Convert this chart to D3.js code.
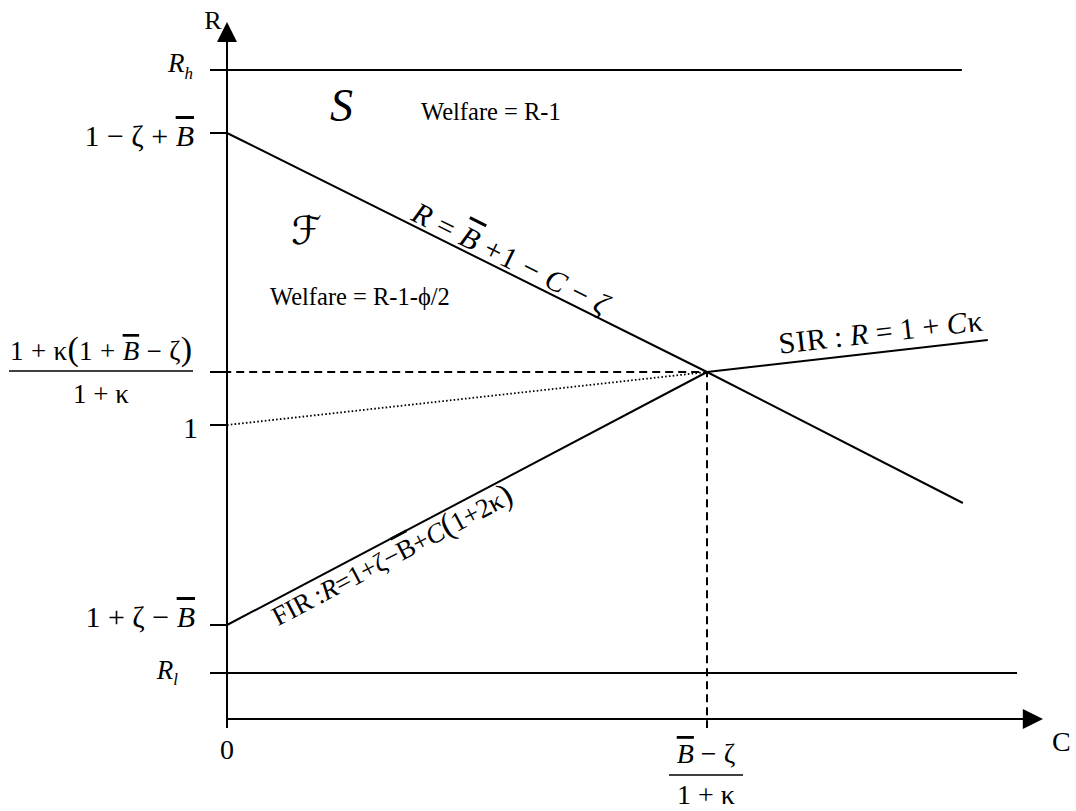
<!DOCTYPE html>
<html>
<head>
<meta charset="utf-8">
<script src="https://cdn.jsdelivr.net/npm/d3@7"></script>
<style>
    body { margin: 0; background: #fff; }
    svg { display: block; }
    text { font-family: 'Liberation Serif', 'Times New Roman', serif; fill: #000; }
</style>
</head>
<body>
<div id="chart"></div>
<script>
// values: C on x, R on y (arbitrary units)
const cDomain = [0, 17];
const rDomain = [0, 14];

const levelNames = ['Rh', '1-zeta+B', 'cross', 'one', '1+zeta-B', 'Rl'];
const levelValues = [12.98, 11.72, 6.94, 5.88, 1.88, 0.92];

const cStar = 10;     // (B - zeta)/(1 + kappa)
const rStar = 6.94;   // (1 + kappa(1 + B - zeta))/(1 + kappa)

const boundaryC = [0, cStar, 15.33];   // R = B + 1 - C - zeta
const boundaryR = [11.72, rStar, 4.32];
const firC = [0, cStar];
const firR = [1.88, rStar];
const sirC = [cStar, 15.85];
const sirR = [rStar, 7.58];
const oneC = [0, cStar];
const oneR = [5.88, rStar];
const rhC = [-0.35, 15.31];
const rlC = [-0.35, 16.46];

const TH = '\u2009'; // thin space

window.Fig = window.Fig || {};

Fig.init = function() {
    Fig.width = 1076;
    Fig.height = 811;

    Fig.svg = d3.select('#chart').append('svg')
        .attr('width', Fig.width)
        .attr('height', Fig.height);

    Fig.x = d3.scaleLinear().domain(cDomain).range([227, 1043]);
    Fig.y = d3.scaleLinear().domain(rDomain).range([719, 19]);

    Fig.draw.axes();
    Fig.draw.lines();
    Fig.draw.levelLabels();
    Fig.draw.lineLabels();
    Fig.draw.regions();
};

Fig.helpers = {
    // parts: [{t, i (italic), bar (overline), fs, dy}]
    rich: function(text, parts) {
        parts.forEach(function(p) {
            let ts = text.append('tspan').text(p.t);
            if (p.i) ts.attr('font-style', 'italic');
            if (p.bar) ts.attr('text-decoration', 'overline');
            if (p.fs) ts.attr('font-size', p.fs);
            if (p.dy) ts.attr('dy', p.dy);
        });
        return text;
    },

    angle: function(cs, rs) {
        let n = cs.length - 1;
        return Math.atan2(Fig.y(rs[n]) - Fig.y(rs[0]), Fig.x(cs[n]) - Fig.x(cs[0])) * 180 / Math.PI;
    },

    rAt: function(cs, rs, c) {
        return d3.scaleLinear().domain([cs[0], cs[cs.length - 1]]).range([rs[0], rs[rs.length - 1]])(c);
    },

    path: function(cs, rs) {
        return d3.line().x(function(d) { return Fig.x(d[0]); })
                        .y(function(d) { return Fig.y(d[1]); })(d3.zip(cs, rs));
    }
};

Fig.draw = {
    axes: function() {
        let x = Fig.x, y = Fig.y, svg = Fig.svg;

        // little ticks to the left of the R axis
        let ax = svg.append('g')
            .attr('transform', 'translate(' + x(0) + ',0)')
            .call(d3.axisLeft(y).tickValues(levelValues).tickSize(17).tickFormat('').offset(0));
        ax.select('.domain').remove();
        ax.selectAll('line').attr('stroke', '#000').attr('stroke-width', 2);

        // R axis with arrow
        svg.append('line')
            .attr('x1', x(0)).attr('y1', y(-0.18))
            .attr('x2', x(0)).attr('y2', y(13.55))
            .attr('stroke', '#000').attr('stroke-width', 2);
        svg.append('path')
            .attr('d', 'M' + x(0) + ',' + y(13.94) + 'L' + (x(0) - 10) + ',' + y(13.54) +
                       'L' + (x(0) + 10) + ',' + y(13.54) + 'Z')
            .attr('fill', '#000');

        // C axis with arrow
        svg.append('line')
            .attr('x1', x(0)).attr('y1', y(0))
            .attr('x2', x(16.6)).attr('y2', y(0))
            .attr('stroke', '#000').attr('stroke-width', 2);
        svg.append('path')
            .attr('d', 'M' + x(17) + ',' + y(0) + 'L' + x(16.58) + ',' + (y(0) - 10) +
                       'L' + x(16.58) + ',' + (y(0) + 10) + 'Z')
            .attr('fill', '#000');

        svg.append('text').attr('x', x(0) - 14).attr('y', 29)
            .attr('font-size', 26).attr('text-anchor', 'middle').text('R');
        svg.append('text').attr('x', 1052).attr('y', y(0) + 32)
            .attr('font-size', 28).text('C');
        svg.append('text').attr('x', x(0)).attr('y', y(0) + 40)
            .attr('font-size', 28).attr('text-anchor', 'middle').text('0');
    },

    lines: function() {
        let x = Fig.x, y = Fig.y, svg = Fig.svg;

        svg.append('line')
            .attr('x1', x(rhC[0])).attr('x2', x(rhC[1]))
            .attr('y1', y(levelValues[0])).attr('y2', y(levelValues[0]))
            .attr('stroke', '#000').attr('stroke-width', 2);
        svg.append('line')
            .attr('x1', x(rlC[0])).attr('x2', x(rlC[1]))
            .attr('y1', y(levelValues[5])).attr('y2', y(levelValues[5]))
            .attr('stroke', '#000').attr('stroke-width', 2);

        // dashed guides to the crossing point
        svg.append('path')
            .attr('d', 'M' + x(-0.35) + ',' + y(rStar) + 'H' + x(cStar) + 'V' + y(-0.18))
            .attr('fill', 'none').attr('stroke', '#000')
            .attr('stroke-width', 2).attr('stroke-dasharray', '8,5');

        svg.append('path').attr('d', Fig.helpers.path(oneC, oneR))
            .attr('fill', 'none').attr('stroke', '#000')
            .attr('stroke-width', 1.8).attr('stroke-dasharray', '1.6,2.2');

        [[boundaryC, boundaryR], [firC, firR], [sirC, sirR]].forEach(function(l) {
            svg.append('path').attr('d', Fig.helpers.path(l[0], l[1]))
                .attr('fill', 'none').attr('stroke', '#000').attr('stroke-width', 2);
        });
    },

    levelLabels: function() {
        let x = Fig.x, y = Fig.y, svg = Fig.svg, rich = Fig.helpers.rich;
        let right = x(0) - 33;

        rich(svg.append('text').attr('x', right - 1).attr('y', y(levelValues[0]) + 2)
            .attr('font-size', 27).attr('text-anchor', 'end'),
            [{t: 'R', i: true}, {t: 'h', i: true, fs: 17, dy: 7}]);

        rich(svg.append('text').attr('x', right).attr('y', y(levelValues[1]) + 13)
            .attr('font-size', 30).attr('text-anchor', 'end'),
            [{t: '1 − ζ + '}, {t: 'B', i: true, bar: true}]);

        // fraction at the crossing level
        let cx = x(0) - 126;
        rich(svg.append('text').attr('x', cx).attr('y', y(rStar) - 12)
            .attr('font-size', 27).attr('text-anchor', 'middle')
            .attr('textLength', 182).attr('lengthAdjust', 'spacing'),
            [{t: '1 + κ'}, {t: '(', fs: 34}, {t: '1 + '}, {t: 'B', i: true, bar: true},
             {t: ' − ζ'}, {t: ')', fs: 34}]);
        svg.append('line')
            .attr('x1', cx - 92).attr('x2', cx + 92)
            .attr('y1', y(rStar) - 1).attr('y2', y(rStar) - 1)
            .attr('stroke', '#000').attr('stroke-width', 1.5);
        svg.append('text').attr('x', cx).attr('y', y(rStar) + 31)
            .attr('font-size', 27).attr('text-anchor', 'middle').text('1 + κ');

        svg.append('text').attr('x', x(0) - 29).attr('y', y(levelValues[3]) + 13)
            .attr('font-size', 30).attr('text-anchor', 'end').text('1');

        rich(svg.append('text').attr('x', right + 1).attr('y', y(levelValues[4]) + 2)
            .attr('font-size', 30).attr('text-anchor', 'end'),
            [{t: '1 + ζ − '}, {t: 'B', i: true, bar: true}]);

        rich(svg.append('text').attr('x', right - 16).attr('y', y(levelValues[5]) + 6)
            .attr('font-size', 27).attr('text-anchor', 'end'),
            [{t: 'R', i: true}, {t: 'l', i: true, fs: 17, dy: 6}]);

        // fraction under the C axis
        let bx = x(cStar) - 1;
        rich(svg.append('text').attr('x', bx).attr('y', y(0) + 44)
            .attr('font-size', 28).attr('text-anchor', 'middle'),
            [{t: 'B', i: true, bar: true}, {t: ' − ζ'}]);
        svg.append('line')
            .attr('x1', bx - 37).attr('x2', bx + 37)
            .attr('y1', y(0) + 56).attr('y2', y(0) + 56)
            .attr('stroke', '#000').attr('stroke-width', 1.5);
        svg.append('text').attr('x', bx).attr('y', y(0) + 85)
            .attr('font-size', 28).attr('text-anchor', 'middle').text('1 + κ');
    },

    lineLabels: function() {
        let x = Fig.x, y = Fig.y, svg = Fig.svg, h = Fig.helpers;

        function place(cs, rs, c, off) {
            return 'translate(' + x(c) + ',' + y(h.rAt(cs, rs, c)) + ') rotate(' +
                   h.angle(cs, rs) + ') translate(0,' + off + ')';
        }

        h.rich(svg.append('text')
            .attr('transform', place([0, cStar], [boundaryR[0], rStar], 3.77, -4))
            .attr('font-size', 30).attr('textLength', 215).attr('lengthAdjust', 'spacing'),
            [{t: 'R', i: true}, {t: TH + '=' + TH}, {t: 'B', i: true, bar: true}, {t: TH + '+1' + TH + '−' + TH},
             {t: 'C', i: true}, {t: TH + '−' + TH}, {t: 'ζ', i: true}]);

        h.rich(svg.append('text')
            .attr('transform', place(firC, firR, 0.82, 25))
            .attr('font-size', 27).attr('textLength', 268).attr('lengthAdjust', 'spacing'),
            [{t: 'FIR' + TH + ':'}, {t: 'R', i: true}, {t: '=1+ζ−'}, {t: 'B', bar: true},
             {t: '+'}, {t: 'C', i: true}, {t: '(', fs: 33}, {t: '1+2κ'}, {t: ')', fs: 33}]);

        h.rich(svg.append('text')
            .attr('transform', place(sirC, sirR, 11.54, -10))
            .attr('font-size', 30).attr('textLength', 205).attr('lengthAdjust', 'spacing'),
            [{t: 'SIR' + TH + ':' + TH}, {t: 'R', i: true}, {t: TH + '=' + TH + '1' + TH + '+' + TH},
             {t: 'C', i: true}, {t: 'κ'}]);
    },

    regions: function() {
        let svg = Fig.svg;

        svg.append('text').attr('x', 330).attr('y', 121)
            .attr('font-size', 46).attr('font-style', 'italic').text('S');
        svg.append('text').attr('x', 421).attr('y', 120)
            .attr('font-size', 24.5).text('Welfare = R-1');

        svg.append('text').attr('x', 291).attr('y', 244)
            .attr('font-size', 39)
            .style('font-family', "'DejaVu Serif', 'DejaVu Sans', serif").text('ℱ');
        svg.append('text').attr('x', 270).attr('y', 305)
            .attr('font-size', 24.5).text('Welfare = R-1-ϕ/2');
    }
};

document.addEventListener('DOMContentLoaded', Fig.init);
</script>
</body>
</html>
